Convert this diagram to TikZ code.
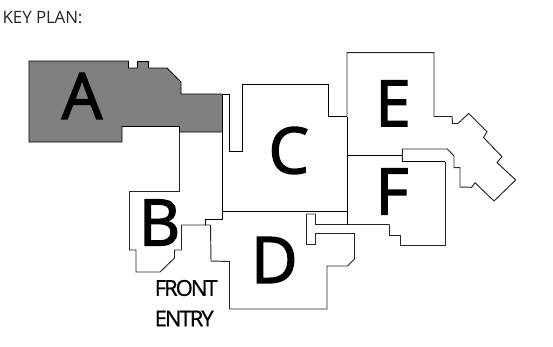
\documentclass[tikz,border=0pt]{standalone}
\usepackage{fontspec}
\setmainfont{Open Sans}
\newfontfamily\heavyface[FakeBold=2.2]{Open Sans}
\newfontfamily\tightface[LetterSpace=-9,FakeBold=0.6]{Open Sans}
\newfontfamily\smallface[LetterSpace=-1]{Open Sans}
\tikzset{
  wall/.style={draw=black,line width=0.95pt,line join=miter},
  thin wall/.style={draw=black!85,line width=0.95pt,line join=miter},
  bigletter/.style={font=\heavyface\fontsize{64}{64}\selectfont,text=black,inner sep=0pt,anchor=center},
  entry/.style={font=\tightface\fontsize{22}{22}\selectfont,text=black,inner sep=0pt,anchor=west},
}
\begin{document}
\begin{tikzpicture}[x=1pt,y=-1pt]
\useasboundingbox (0,0) rectangle (553,346);
\fill[white] (0,0) rectangle (553,346);
% Wing A
\path[wall,fill=black!50] (29,61) -- (128.5,61) -- (128.5,68) -- (137.5,68) -- (137.5,61.5) -- (148.5,61.5) -- (148.5,68) -- (167,68) -- (181,82) -- (181,94) -- (222.5,94) -- (222.5,132) -- (179.5,132) -- (179.5,126.5) -- (122,126.5) -- (122,142) -- (29,142) -- cycle;
% Wing B and front entry
\path[thin wall] (179.5,132) -- (179.5,191.5) -- (129.5,191.5) -- (129.5,250) -- (136,250) -- (136,272) -- (160,272) -- (174.5,258) -- (174.5,250) -- (181.5,250) -- (181.5,225) -- (210.5,225);
\path[wall] (205,225) -- (205,219) -- (222.5,219) -- (222.5,94);
% Wing D
\path[thin wall] (210.5,225) -- (211,261) -- (229.5,261.5) -- (229.5,309) -- (327,309) -- (327,266) -- (347.5,266) -- (354.5,259) -- (354.5,233.5) -- (315.5,233.5) -- (315.5,244.5) -- (306.5,244.5) -- (306.5,214) -- (315.5,214) -- (315.5,224.5) -- (389.5,224.5);
\path[wall] (222.5,211) -- (347,211);
% Wing C
\path[wall] (222.5,94) -- (229,94) -- (229,151) -- (242,151) -- (242,84.5) -- (328.5,84.5) -- (328.5,116.5) -- (347,116.5);
\path[wall] (347,116.5) -- (347,224.5);
% Wing E and its arm
\path[thin wall] (347,116.5) -- (347,52.7) -- (434,52.7) -- (434,116.5) -- (452,116.5) -- (452.5,123.5) -- (458,123.5) -- (468.7,113.5) -- (487,131.7) -- (483.5,137.5) -- (502,156.7) -- (497,162.5) -- (515.7,180) -- (494,201) -- (475,182.7) -- (471.7,187.3) -- (460,187) -- (460,167.7) -- (454,167.7) -- (454,156) -- (447.3,149) -- (402.3,149) -- (402.3,161.5);
% Wing F
\path[wall] (347,155) -- (402.3,155);
\path[wall] (402.3,161.5) -- (445,161.5);
\path[thin wall] (445,161.5) -- (445,245.5) -- (400,245.5) -- (400,235.5) -- (389.5,235.5) -- (389.5,224.5);
% Labels
\node[inner sep=0pt,anchor=west,font=\smallface\fontsize{17}{17}\selectfont,text=black!85] (plan) at (2.5,17.5) {KEY PLAN:};
\node[bigletter] (A) at (82,96) {A};
\node[bigletter] (B) at (159.5,222.5) {B};
\node[bigletter] (C) at (288.7,150.5) {C};
\node[bigletter] (D) at (274.3,260) {D};
\node[bigletter] (E) at (393,103.3) {E};
\node[bigletter] (F) at (392,191.5) {F};
\node[entry] (front) at (154.5,288) {FRONT};
\node[entry] (entry) at (154.5,318.5) {ENTRY};
\end{tikzpicture}
\end{document}
